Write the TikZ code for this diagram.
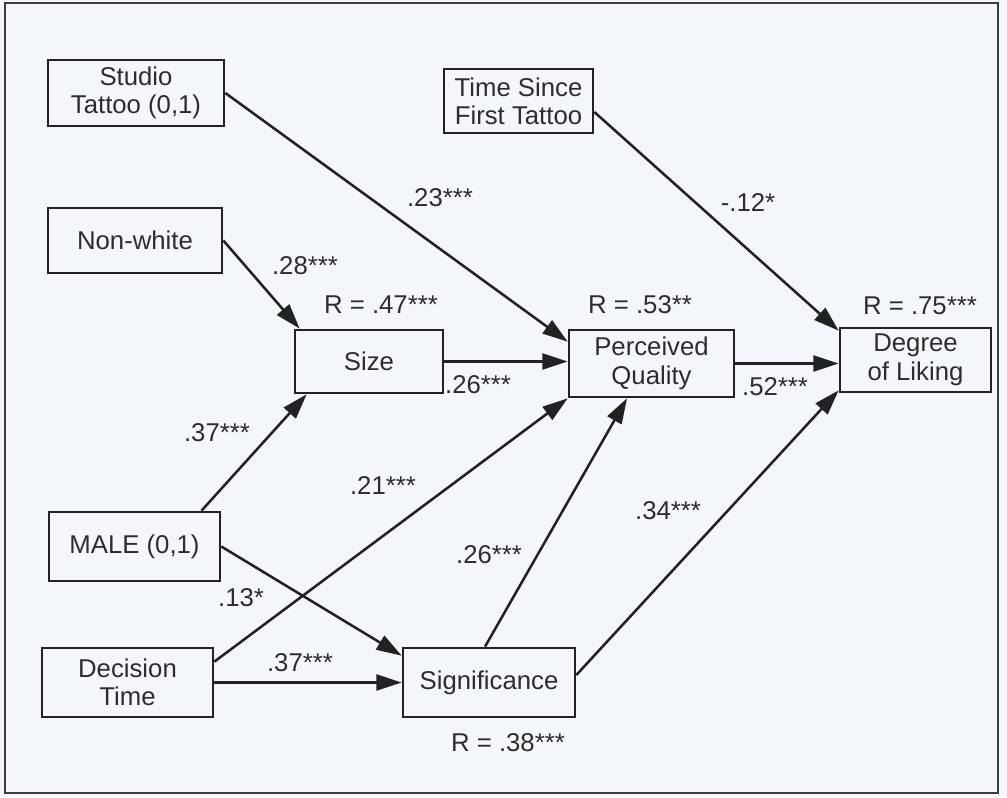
\documentclass[tikz,border=0pt]{standalone}
\usepackage{fontspec}
\setmainfont{Liberation Sans}
\usetikzlibrary{arrows.meta,calc}
\definecolor{bgc}{RGB}{243,246,251}
\definecolor{linec}{RGB}{34,34,34}
\definecolor{textc}{RGB}{45,45,45}
\definecolor{framec}{RGB}{60,60,60}
\begin{document}
\begin{tikzpicture}[x=0.75pt,y=-0.75pt,
  box/.style={draw=linec, line width=2pt, fill=bgc, inner sep=0pt, align=center, text=textc, font=\fontsize{19.3}{21.3}\selectfont},
  lbl/.style={text=textc, font=\fontsize{19.3}{21.3}\selectfont, inner sep=0pt},
  arr/.style={draw=linec, line width=1.9pt, -{Triangle[length=19pt,width=12pt]}},
  ln/.style={draw=linec, line width=1.9pt}]
\useasboundingbox (0,0) rectangle (1007,797);
\fill[bgc] (0,0) rectangle (1007,797);
\draw[line width=1.6pt, draw=framec] (5,3) rectangle (998,793);

% nodes
\node[box, minimum width=132pt, minimum height=49.5pt] (studio) at (136,93) {Studio\\Tattoo (0,1)};
\node[box, minimum width=130.5pt, minimum height=48.75pt] (nonwhite) at (135,240.5) {Non-white};
\node[box, minimum width=111pt, minimum height=47.25pt] (size) at (369,361.5) {Size};
\node[box, minimum width=123.75pt, minimum height=50.25pt] (pq) at (651.5,363.5) {Perceived\\Quality};
\node[box, minimum width=113.25pt, minimum height=48pt] (dl) at (915.5,360) {Degree\\of Liking};
\node[box, minimum width=111.75pt, minimum height=48pt] (ts) at (518.5,101) {Time Since\\First Tattoo};
\node[box, minimum width=128.25pt, minimum height=51.75pt] (male) at (134.5,546.5) {MALE (0,1)};
\node[box, minimum width=128.25pt, minimum height=51.75pt] (dt) at (127.5,682.5) {Decision\\Time};
\node[box, minimum width=129pt, minimum height=51.75pt] (sig) at (489,682.5) {Significance};

% connectors
\draw[arr] (studio.east) -- ($(pq.north west)+(0,13)$);
\draw[arr] (nonwhite.east) -- ($(size.north west)+(6,0)$);
\draw[arr] ($(male.north)+(67,0)$) -- ($(size.south west)+(13,0)$);
\draw[arr] (size.east) -- (size.east -| pq.west);
\draw[arr] (pq.east) -- (pq.east -| dl.west);
\draw[arr] ($(ts.east)+(0,11)$) -- ($(dl.north west)+(0,4)$);
\draw[arr] ($(dt.north east)+(0,15)$) -- (pq.south west);
\draw[arr] (male.east) -- ($(sig.north west)+(0,9)$);
\draw[arr] (dt.east) -- (sig.west);
\draw[arr] ($(sig.north)+(-4,0)$) -- ($(pq.south)+(-24.5,0)$);
\draw[arr] ($(sig.east)+(0,-7.5)$) -- ($(dl.south west)+(0,-3)$);

% labels
\node[lbl] (l1) at (440,198) {.23***};
\node[lbl] (l2) at (305,266) {.28***};
\node[lbl] (l3) at (217,433) {.37***};
\node[lbl] (l4) at (478,385) {.26***};
\node[lbl] (l5) at (775,387) {.52***};
\node[lbl] (l6) at (748,203) {-.12*};
\node[lbl] (l7) at (383,486) {.21***};
\node[lbl] (l8) at (241,598) {.13*};
\node[lbl] (l9) at (300,663) {.37***};
\node[lbl] (l10) at (489,555) {.26***};
\node[lbl] (l11) at (668,511) {.34***};
\node[lbl] (r1) at (381,305) {R = .47***};
\node[lbl] (r2) at (640,305) {R = .53**};
\node[lbl] (r3) at (920,306) {R = .75***};
\node[lbl] (r4) at (508,743) {R = .38***};
\end{tikzpicture}
\end{document}
